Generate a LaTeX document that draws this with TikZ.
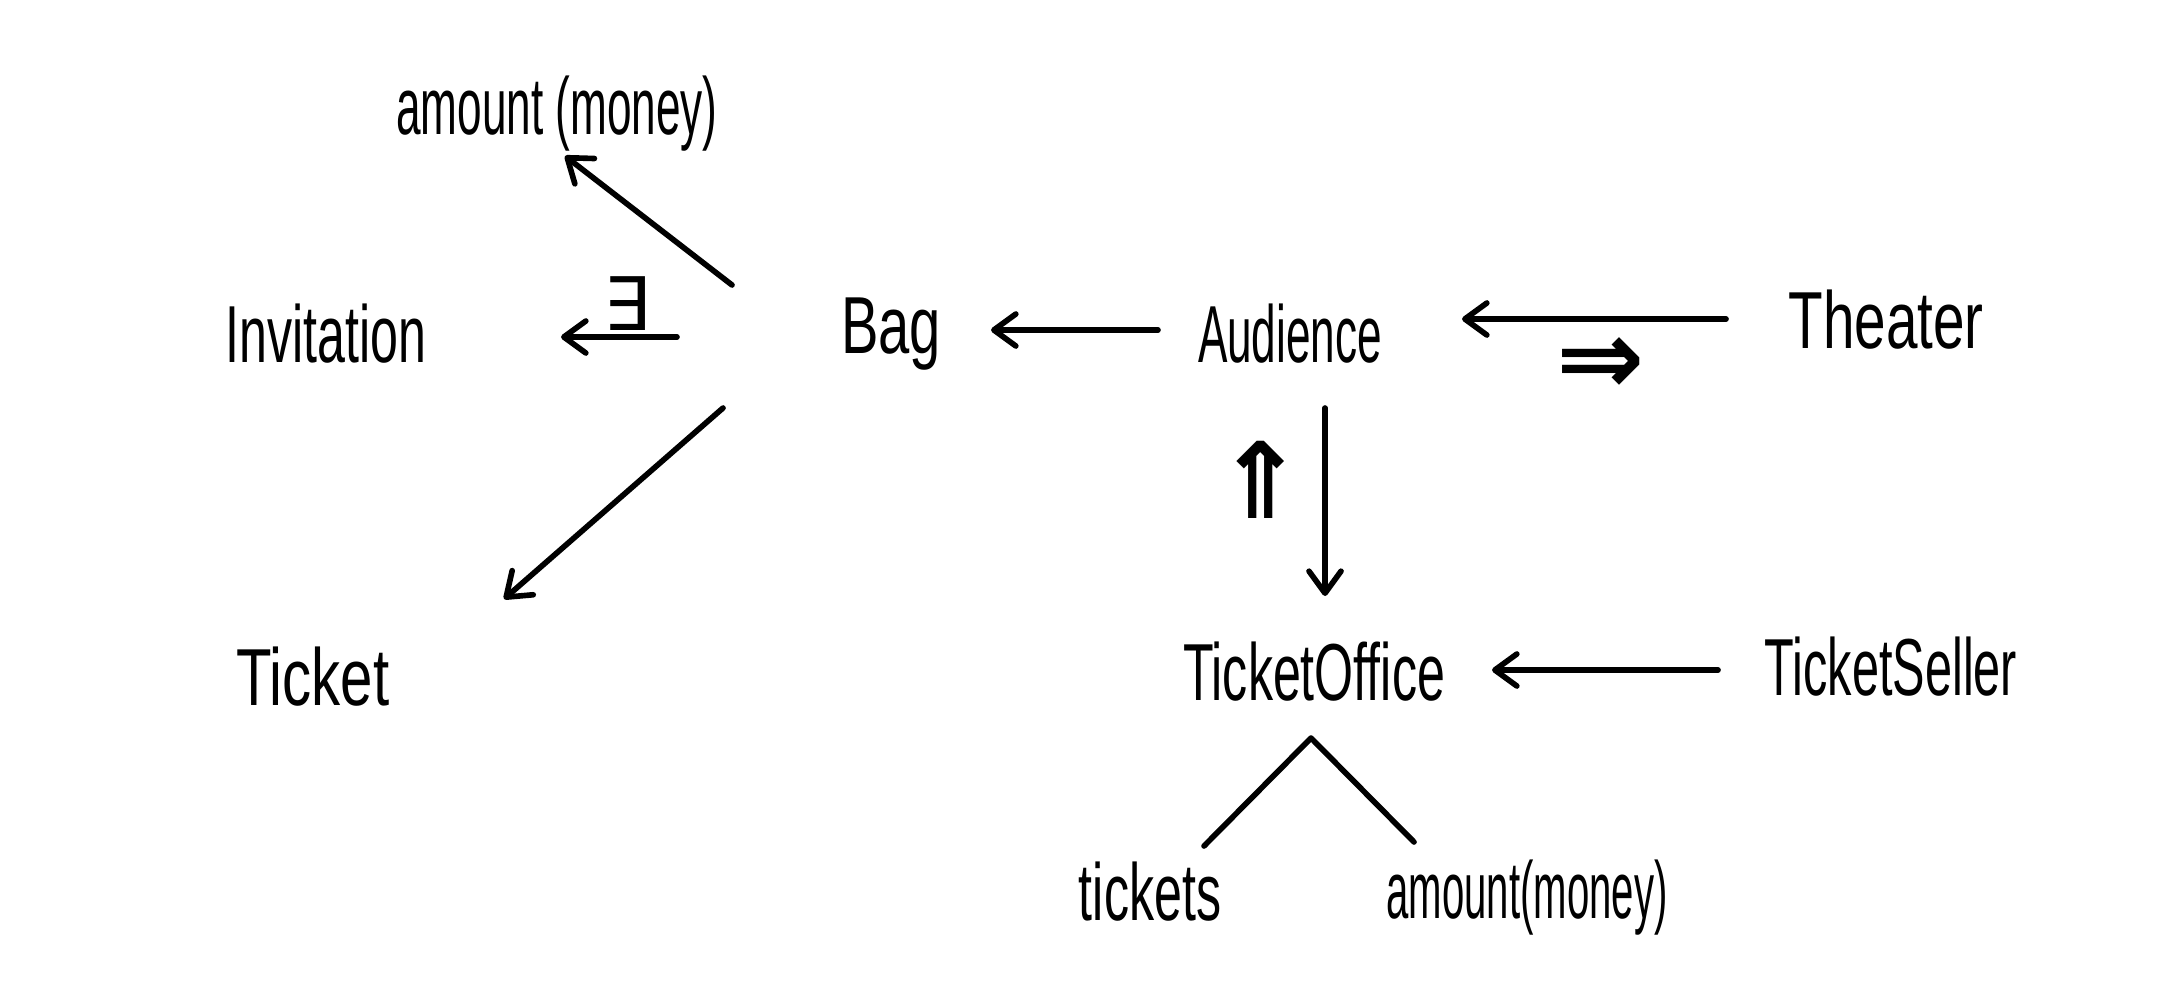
\documentclass[tikz,border=0pt]{standalone}
\usepackage{fontspec}
\setmainfont{Liberation Sans}
\newfontfamily\handfont[FakeStretch=0.62]{Liberation Sans}
\newfontfamily\symfont{DejaVu Sans}
\usetikzlibrary{arrows.meta}
\newcommand{\hx}[2]{\scalebox{#1}[1]{#2}}
\begin{document}
\begin{tikzpicture}[x=0.01cm,y=-0.01cm,
  lbl/.style={inner sep=0pt,font=\handfont\fontsize{23}{26}\selectfont},
  sym/.style={inner sep=0pt,font=\symfont\bfseries\fontsize{30}{32}\selectfont},
  arr/.style={line width=1.6pt,line cap=round,line join=round,
    -{Straight Barb[length=2.2mm,width=3.2mm,line cap=round,line join=round]}},
  plain/.style={line width=1.6pt,line cap=round,line join=round}]
\useasboundingbox (0,0) rectangle (2183,1000);
% labels
\node[lbl] (amtTop) at (557,114) {\hx{0.88}{amount (money)}};
\node[lbl] (inv) at (326,334) {Invitation};
\node[lbl] (bag) at (891,334) {\hx{1.12}{Bag}};
\node[lbl] (aud) at (1290,334) {\hx{0.88}{Audience}};
\node[lbl] (thea) at (1886,320) {\hx{1.13}{Theater}};
\node[lbl] (tick) at (313,677) {\hx{1.16}{Ticket}};
\node[lbl] (toff) at (1314,672) {TicketOffice};
\node[lbl] (tsel) at (1891,667) {\hx{0.97}{TicketSeller}};
\node[lbl] (tks) at (1150,892) {tickets};
\node[lbl] (amtBot) at (1527,898) {\hx{0.8}{amount(money)}};
% connector end points
\coordinate (bagA) at (732,285);
\coordinate (amtA) at (565,156);
\coordinate (bagB) at (677,337);
\coordinate (invA) at (561,337);
\coordinate (bagC) at (723,408);
\coordinate (tickA) at (504,599);
\coordinate (audA) at (1158,330);
\coordinate (bagD) at (991,330);
\coordinate (theaA) at (1726,319);
\coordinate (audB) at (1462,319);
\coordinate (audC) at (1325,408);
\coordinate (toffA) at (1325,596);
\coordinate (tselA) at (1718,670);
\coordinate (toffB) at (1492,670);
\coordinate (apex) at (1311,738);
\coordinate (tksA) at (1204,846);
\coordinate (amtB) at (1414,842);
% connectors
\draw[arr] (bagA) -- (amtA);
\draw[arr] (bagB) -- (invA);
\draw[arr] (bagC) -- (tickA);
\draw[arr] (audA) -- (bagD);
\draw[arr] (theaA) -- (audB);
\draw[arr] (audC) -- (toffA);
\draw[arr] (tselA) -- (toffB);
\draw[plain] (tksA) -- (apex) -- (amtB);
% symbols
\node[sym,font=\symfont\fontsize{21}{23}\selectfont] (exists) at (627,304) {∃};
\node[sym] (dbl) at (1601,366) {⇒};
\node[sym] (up) at (1261,480) {⇑};
\end{tikzpicture}
\end{document}
